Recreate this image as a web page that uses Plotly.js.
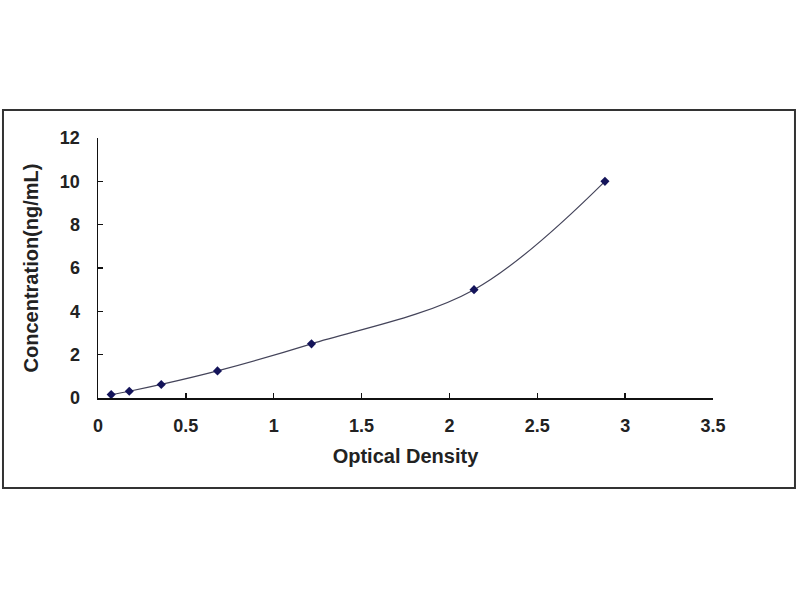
<!DOCTYPE html>
<html>
<head>
<meta charset="utf-8">
<script src="https://cdn.plot.ly/plotly-3.0.1.min.js"></script>
<style>html,body{margin:0;padding:0;background:#fff;}#chart{width:800px;height:600px;}</style>
</head>
<body>
<div id="chart"></div>
<script>
var opticalDensity = [0.075, 0.178, 0.36, 0.68, 1.215, 2.14, 2.885];
var concentration = [0.156, 0.312, 0.625, 1.25, 2.5, 5, 10];
var xTicks = [0, 0.5, 1, 1.5, 2, 2.5, 3, 3.5];
var yTicks = [0, 2, 4, 6, 8, 10, 12];
var xTitle = "Optical Density";
var yTitle = "Concentration(ng/mL)";

var trace = {
  x: opticalDensity,
  y: concentration,
  mode: "lines+markers",
  type: "scatter",
  line: {shape: "spline", smoothing: 1, color: "#44445a", width: 1.2},
  marker: {symbol: "diamond", size: 7, color: "#14145a"},
  hoverinfo: "x+y"
};

var fam = "Liberation Sans, Arial, sans-serif";

var layout = {
  width: 800, height: 600,
  margin: {l: 98, r: 87, t: 138, b: 202},
  paper_bgcolor: "#fff", plot_bgcolor: "#fff",
  showlegend: false,
  font: {family: fam, size: 16, color: "#222"},
  xaxis: {
    range: [0, 3.5], tickvals: xTicks, ticktext: xTicks.map(String),
    showgrid: false, zeroline: false, showline: true, linecolor: "#111", linewidth: 1.5,
    ticks: "inside", ticklen: 5, tickcolor: "#111", tickwidth: 1.5,
    ticklabelstandoff: 11,
    tickfont: {family: fam, size: 18, color: "#222", weight: "bold"},
    title: {text: xTitle, standoff: 14, font: {family: fam, size: 20, color: "#222", weight: "bold"}}
  },
  yaxis: {
    range: [0, 12], tickvals: yTicks, ticktext: yTicks.map(String),
    showgrid: false, zeroline: false, showline: true, linecolor: "#111", linewidth: 1.5,
    ticks: "inside", ticklen: 5, tickcolor: "#111", tickwidth: 1.5,
    ticklabelstandoff: 13,
    tickfont: {family: fam, size: 18, color: "#222", weight: "bold"},
    title: {text: yTitle, standoff: 16, font: {family: fam, size: 20, color: "#222", weight: "bold"}}
  },
  shapes: [{
    type: "rect", xref: "paper", yref: "paper",
    x0: -0.1545, x1: 1.1333, y0: -0.346, y1: 1.1077,
    line: {color: "#333", width: 2}, fillcolor: "rgba(0,0,0,0)", layer: "below"
  }]
};

Plotly.newPlot("chart", [trace], layout, {displayModeBar: false, staticPlot: true});
</script>
</body>
</html>
